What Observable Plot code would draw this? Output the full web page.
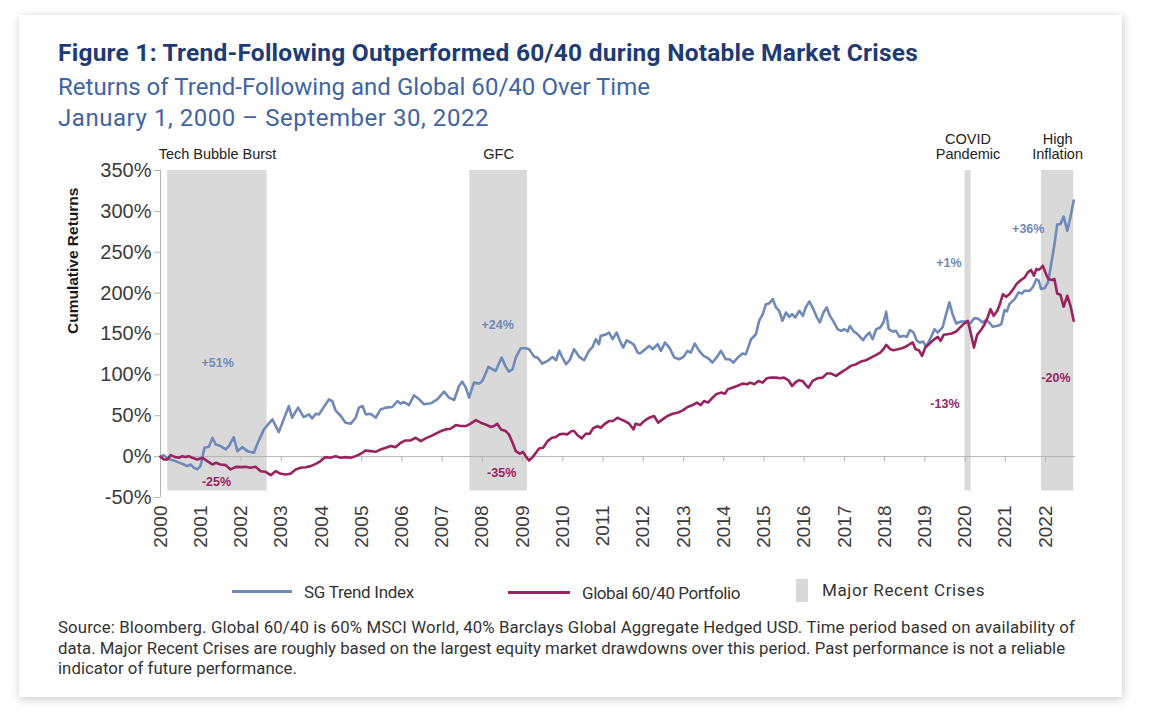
<!DOCTYPE html>
<html>
<head>
<meta charset="utf-8">
<script src="https://cdn.jsdelivr.net/npm/d3@7"></script>
<script src="https://cdn.jsdelivr.net/npm/@observablehq/plot@0.6"></script>
<style>
  html, body { margin: 0; padding: 0; }
  body { width: 1159px; height: 727px; position: relative; overflow: hidden; background: #ffffff; font-family: Roboto, "Liberation Sans", Arial, sans-serif; }
  #card { position: absolute; left: 19px; top: 15px; width: 1103px; height: 682px; background: #fff; box-shadow: 1px 2px 9px rgba(0,0,0,0.22); }
  .t { position: absolute; left: 58px; white-space: nowrap; }
  #title { top: 40px; font-size: 24.5px; line-height: 26px; font-weight: 700; color: #1e3b75; }
  #sub { top: 74px; font-size: 24px; line-height: 26px; color: #4064a4; }
  #date { top: 105px; font-size: 24px; line-height: 26px; color: #4064a4; }
  #chart { position: absolute; left: 40px; top: 130px; }
  .lg { position: absolute; font-size: 17px; line-height: 20px; color: #333; white-space: nowrap; }
  .sw { position: absolute; }
  .cap { position: absolute; left: 58px; font-size: 16.8px; line-height: 20px; color: #333; white-space: nowrap; }
</style>
</head>
<body>
<div id="card"></div>
<div id="title" class="t" data-w="860">Figure 1: Trend-Following Outperformed 60/40 during Notable Market Crises</div>
<div id="sub" class="t" data-w="592">Returns of Trend-Following and Global 60/40 Over Time</div>
<div id="date" class="t" data-w="431">January 1, 2000 – September 30, 2022</div>
<div id="chart"></div>
<div class="sw" style="left:232px;top:590px;width:60px;height:3px;background:#6f89b8"></div>
<div class="lg" style="left:304px;top:582px" data-w="110">SG Trend Index</div>
<div class="sw" style="left:508px;top:591px;width:62px;height:3px;background:#98235f"></div>
<div class="lg" style="left:582px;top:583px" data-w="158">Global 60/40 Portfolio</div>
<div class="sw" style="left:796px;top:579px;width:12px;height:23px;background:#d9d9d9"></div>
<div class="lg" style="left:822px;top:580px" data-w="163">Major Recent Crises</div>
<div class="cap" style="top:617px" data-w="1017">Source: Bloomberg. Global 60/40 is 60% MSCI World, 40% Barclays Global Aggregate Hedged USD. Time period based on availability of</div>
<div class="cap" style="top:638px" data-w="1007">data. Major Recent Crises are roughly based on the largest equity market drawdowns over this period. Past performance is not a reliable</div>
<div class="cap" style="top:658px" data-w="239">indicator of future performance.</div>
<script>
// ---- Data (decimal years, cumulative return in %) ----
const sgYears = [
  2000, 2000.08, 2000.17, 2000.37, 2000.58, 2000.66, 2000.75, 2000.83, 2000.91, 2000.99,
  2001.04, 2001.09, 2001.20, 2001.29, 2001.37, 2001.49, 2001.62, 2001.70, 2001.82, 2001.91,
  2002.03, 2002.16, 2002.32, 2002.40, 2002.57, 2002.78, 2002.94,
  2003.19, 2003.27, 2003.42, 2003.56, 2003.69, 2003.77, 2003.86, 2003.94,
  2004.06, 2004.19, 2004.27, 2004.35, 2004.48, 2004.60, 2004.73, 2004.85, 2004.93,
  2005.02, 2005.10, 2005.22, 2005.35, 2005.47, 2005.60, 2005.76, 2005.89, 2005.97,
  2006.05, 2006.18, 2006.30, 2006.43, 2006.55, 2006.72, 2006.88,
  2007.05, 2007.17, 2007.30, 2007.42, 2007.50, 2007.59, 2007.67, 2007.79, 2007.92,
  2008.00, 2008.15, 2008.25, 2008.33, 2008.48, 2008.57, 2008.66, 2008.75, 2008.83, 2008.95,
  2009.08, 2009.16, 2009.29, 2009.37, 2009.49, 2009.62, 2009.74, 2009.83, 2009.91, 2009.99,
  2010.08, 2010.17, 2010.28, 2010.41, 2010.53, 2010.65, 2010.74, 2010.82, 2010.90, 2010.94,
  2011.05, 2011.15, 2011.24, 2011.34, 2011.42, 2011.50, 2011.59, 2011.69, 2011.77, 2011.86, 2011.92,
  2012.02, 2012.15, 2012.23, 2012.36, 2012.44, 2012.54, 2012.65, 2012.77, 2012.89,
  2013.00, 2013.10, 2013.18, 2013.28, 2013.39, 2013.50, 2013.61, 2013.72, 2013.81, 2013.93,
  2014.05, 2014.14, 2014.24, 2014.35, 2014.47, 2014.55, 2014.68, 2014.80, 2014.88, 2014.97,
  2015.05, 2015.13, 2015.22, 2015.30, 2015.38, 2015.46, 2015.55, 2015.63, 2015.70, 2015.78, 2015.88, 2015.97,
  2016.04, 2016.13, 2016.23, 2016.31, 2016.39, 2016.48, 2016.56, 2016.64, 2016.72, 2016.83, 2016.92,
  2017.00, 2017.08, 2017.14, 2017.22, 2017.33, 2017.46, 2017.54, 2017.62, 2017.70, 2017.79, 2017.89, 2017.97,
  2018.04, 2018.10, 2018.20, 2018.28, 2018.37, 2018.47, 2018.55, 2018.63, 2018.72, 2018.80, 2018.88, 2018.96,
  2019.03, 2019.15, 2019.24, 2019.32, 2019.44, 2019.53, 2019.61, 2019.69, 2019.78, 2019.90,
  2020.02, 2020.13, 2020.23, 2020.32, 2020.44, 2020.52, 2020.60, 2020.69, 2020.81, 2020.90, 2020.98,
  2021.04, 2021.10, 2021.23, 2021.33, 2021.41, 2021.48, 2021.60, 2021.69, 2021.77, 2021.83, 2021.89, 2021.98,
  2022.06, 2022.12, 2022.21, 2022.29, 2022.37, 2022.45, 2022.54, 2022.62, 2022.70
];
const sgValues = [
  0, 1.8, -2.2, -5.5, -9.6, -11.6, -9.6, -13.7, -15.7, -11.6,
  -1.4, 10.8, 12.1, 23.1, 14.9, 12.9, 8.8, 12.9, 23.9, 6.7,
  11.6, 6.7, 4.7, 14.9, 33.3, 45.6, 30.0,
  61.9, 47.6, 59.9, 48.4, 51.7, 46.8, 52.5, 51.7,
  60.7, 70.1, 68.0, 56.6, 49.7, 41.5, 40.3, 47.6, 59.9,
  61.9, 51.7, 52.5, 47.6, 57.8, 59.9, 60.7, 68.0, 64.8,
  66.8, 63.1, 75.0, 70.1, 64.0, 65.2, 70.1,
  79.5, 72.1, 69.3, 86.4, 91.7, 84.4, 72.1, 90.5, 89.3,
  92.6, 109.7, 106.9, 104.8, 121.2, 111.0, 104.0, 106.9, 121.2, 132.6,
  132.6, 131.4, 122.0, 121.2, 113.8, 117.1, 122.0, 117.9, 129.4, 121.2,
  113.0, 117.9, 131.4, 122.0, 117.9, 129.4, 134.3, 143.7, 137.5, 147.7,
  149.0, 151.8, 143.7, 151.8, 141.6, 133.4, 142.3, 139.6, 136.7, 127.3, 126.1,
  130.2, 135.5, 131.4, 137.5, 129.4, 139.6, 133.4, 121.2, 119.1,
  122.0, 129.4, 127.3, 138.3, 129.4, 123.2, 120.4, 115.1, 120.4, 129.4,
  119.1, 119.1, 115.1, 121.2, 126.1, 125.3, 143.6, 149.7, 166.1, 174.3,
  186.5, 187.4, 192.7, 182.5, 178.4, 166.1, 176.3, 171.0, 174.3, 170.2, 178.4, 172.2,
  182.5, 189.8, 180.4, 171.0, 164.1, 176.3, 182.5, 172.2, 166.1, 155.9, 153.8,
  155.9, 153.0, 160.0, 153.8, 149.7, 142.4, 147.7, 151.8, 143.6, 155.9, 157.9, 164.1,
  177.1, 155.9, 153.0, 153.8, 146.5, 147.7, 146.5, 154.7, 151.8, 141.6, 139.6, 140.8,
  134.3, 145.7, 155.9, 151.8, 158.0, 174.3, 188.6, 174.3, 162.9, 165.3,
  165.3, 162.9, 169.4, 169.0, 164.1, 166.9, 164.1, 158.8, 160.0, 162.0, 179.2,
  177.6, 186.6, 192.7, 200.9, 199.6, 202.9, 202.9, 207.8, 216.9, 215.2, 205.0, 206.2,
  213.1, 229.4, 256.0, 283.8, 284.6, 293.6, 276.4, 292.8, 313.2
];
const mixYears = [
  2000, 2000.08, 2000.17, 2000.25, 2000.37, 2000.46, 2000.54, 2000.62, 2000.70, 2000.79, 2000.91,
  2001.04, 2001.16, 2001.29, 2001.37, 2001.49, 2001.62, 2001.74, 2001.87, 2001.99,
  2002.11, 2002.24, 2002.36, 2002.49, 2002.61, 2002.74, 2002.86, 2002.99,
  2003.11, 2003.23, 2003.36, 2003.48, 2003.61, 2003.73, 2003.86, 2003.98,
  2004.10, 2004.23, 2004.35, 2004.48, 2004.60, 2004.73, 2004.85, 2004.98,
  2005.10, 2005.22, 2005.35, 2005.47, 2005.60, 2005.72, 2005.84, 2005.97,
  2006.09, 2006.22, 2006.34, 2006.47, 2006.59, 2006.72, 2006.84, 2006.97,
  2007.09, 2007.21, 2007.34, 2007.46, 2007.59, 2007.71, 2007.84, 2007.96,
  2008.08, 2008.21, 2008.29, 2008.37, 2008.46, 2008.58, 2008.66, 2008.75, 2008.83, 2008.93,
  2009.01, 2009.09, 2009.16, 2009.25, 2009.33, 2009.41, 2009.51, 2009.62, 2009.73, 2009.83, 2009.91,
  2010.01, 2010.11, 2010.22, 2010.28, 2010.36, 2010.47, 2010.57, 2010.67, 2010.75, 2010.86, 2010.94,
  2011.05, 2011.15, 2011.25, 2011.36, 2011.44, 2011.54, 2011.65, 2011.76, 2011.81, 2011.92,
  2012.02, 2012.15, 2012.27, 2012.37, 2012.48, 2012.60, 2012.73, 2012.85, 2012.98,
  2013.10, 2013.23, 2013.33, 2013.43, 2013.51, 2013.61, 2013.72, 2013.81, 2013.93,
  2014.03, 2014.10, 2014.21, 2014.33, 2014.47, 2014.58, 2014.66, 2014.76, 2014.86, 2014.97,
  2015.07, 2015.17, 2015.30, 2015.40, 2015.50, 2015.61, 2015.70, 2015.78, 2015.86, 2015.96,
  2016.04, 2016.11, 2016.21, 2016.33, 2016.46, 2016.56, 2016.67, 2016.79, 2016.91,
  2017.04, 2017.16, 2017.29, 2017.41, 2017.54, 2017.66, 2017.79, 2017.89, 2017.97,
  2018.04, 2018.14, 2018.22, 2018.33, 2018.43, 2018.52, 2018.62, 2018.70, 2018.77, 2018.85, 2018.93,
  2019.01, 2019.10, 2019.17, 2019.24, 2019.32, 2019.39, 2019.47, 2019.57, 2019.67, 2019.78, 2019.88, 2019.98,
  2020.07, 2020.13, 2020.22, 2020.30, 2020.38, 2020.48, 2020.56, 2020.63, 2020.71, 2020.80, 2020.85, 2020.94,
  2021.02, 2021.10, 2021.18, 2021.29, 2021.39, 2021.48, 2021.56, 2021.64, 2021.71, 2021.77, 2021.82, 2021.89, 2021.93,
  2022.02, 2022.07, 2022.16, 2022.22, 2022.29, 2022.37, 2022.45, 2022.54, 2022.62, 2022.70
];
const mixValues = [
  0, -3.5, -3.5, 1.8, -0.6, -1.4, 0.6, -0.6, 0.6, -1.4, -3.5,
  -1.4, -5.5, -9.6, -7.6, -9.6, -10.4, -15.7, -12.5, -12.9,
  -12.5, -13.7, -12.5, -17.8, -18.6, -22.7, -17.8, -21.0,
  -21.9, -21.0, -15.7, -13.7, -12.9, -11.6, -8.8, -5.5,
  -0.6, -1.4, 0.6, -1.4, -0.6, -1.4, 0.6, 3.5,
  7.6, 6.7, 5.9, 8.8, 10.8, 12.9, 11.6, 17.0,
  19.8, 19.8, 23.1, 19.0, 22.3, 25.1, 28.0, 31.3,
  33.3, 34.1, 38.6, 37.4, 37.4, 40.3, 44.7, 41.5,
  39.4, 36.2, 37.4, 40.3, 33.3, 31.3, 27.2, 17.0, 6.7, 3.5,
  5.9, -0.6, -4.7, -0.6, 4.7, 10.0, 10.8, 19.0, 23.1, 23.9, 27.2,
  28.0, 27.2, 31.3, 31.3, 26.4, 22.3, 28.0, 28.0, 34.5, 37.4, 35.3,
  40.3, 43.5, 43.5, 47.6, 45.6, 43.5, 40.3, 33.3, 40.3, 38.6,
  43.5, 47.6, 49.7, 41.5, 45.6, 49.7, 52.5, 53.7, 56.6,
  60.7, 63.1, 66.0, 63.1, 68.0, 66.0, 72.1, 76.2, 78.3,
  77.0, 82.3, 84.3, 86.4, 89.3, 88.5, 90.5, 88.5, 92.6, 90.5,
  95.8, 96.6, 96.6, 95.8, 96.6, 93.4, 86.4, 90.5, 93.4, 92.6,
  87.7, 84.3, 92.6, 95.8, 96.6, 101.6, 101.6, 98.7, 102.8,
  106.9, 111.0, 113.0, 116.3, 118.0, 121.2, 124.5, 127.3, 131.4,
  136.7, 131.4, 130.2, 131.4, 132.6, 134.3, 137.5, 139.6, 131.4, 130.2, 123.2,
  133.4, 137.5, 140.8, 143.7, 146.5, 141.6, 149.0, 149.8, 150.6, 153.0, 158.0, 162.9,
  166.1, 153.8, 133.4, 149.0, 153.8, 161.2, 170.2, 180.4, 172.2, 178.4, 184.5, 198.7,
  195.5, 198.7, 203.7, 211.9, 216.0, 219.2, 225.4, 228.3, 221.3, 229.4, 228.3, 230.7, 233.5,
  222.5, 217.2, 216.0, 217.2, 199.6, 198.0, 183.3, 196.8, 184.5, 166.1
];
const crisisNames = ["Tech Bubble Burst", "GFC", "COVID\nPandemic", "High\nInflation"];
const crisisStart = [2000.18, 2007.69, 2020.0, 2021.9];
const crisisEnd = [2002.65, 2009.12, 2020.15, 2022.7];
const noteTexts = ["+51%", "-25%", "+24%", "-35%", "+1%", "-13%", "+36%", "-20%"];
const noteSeries = ["sg", "mix", "sg", "mix", "sg", "mix", "sg", "mix"];
const noteYears = [2001.42, 2001.39, 2008.38, 2008.48, 2019.60, 2019.50, 2021.57, 2022.26];
const noteValues = [114.6, -31.3, 161, -20.2, 237, 64.4, 279, 96.5];
const yTicks = [-50, 0, 50, 100, 150, 200, 250, 300, 350];
const xTickYears = d3.range(2000, 2023);

// ---- helpers ----
function toDate(t) {
  const y = Math.floor(t), f = t - y;
  const a = Date.UTC(y, 0, 1), b = Date.UTC(y + 1, 0, 1);
  return new Date(a + f * (b - a));
}
const BLUE = "#6f89b8", PLUM = "#98235f", GREY = "#b3b3b3";
const sg = sgYears.map((t, i) => ({date: toDate(t), value: sgValues[i]}));
const mix = mixYears.map((t, i) => ({date: toDate(t), value: mixValues[i]}));
const crises = crisisNames.map((n, i) => ({name: n, start: toDate(crisisStart[i]), end: toDate(crisisEnd[i]), mid: toDate((crisisStart[i] + crisisEnd[i]) / 2)}));
const notes = noteTexts.map((t, i) => ({text: t, series: noteSeries[i], date: toDate(noteYears[i]), value: noteValues[i]}));
const yearDates = xTickYears.map(y => new Date(Date.UTC(y, 0, 1)));
const x0 = new Date(Date.UTC(2000, 0, 1)), x1 = new Date(Date.UTC(2022, 8, 30));

const chart = Plot.plot({
  width: 1060,
  height: 430,
  marginLeft: 120,
  marginRight: 25,
  marginTop: 40,
  marginBottom: 63,
  x: {type: "utc", domain: [x0, x1]},
  y: {domain: [-50, 350]},
  style: {fontFamily: "'Liberation Sans', Arial, sans-serif", background: "transparent", overflow: "visible"},
  marks: [
    Plot.rect(crises, {x1: "start", x2: "end", y1: -42, y2: 350, fill: "#d9d9d9"}),
    Plot.text(crises, {x: "mid", y: 364, text: "name", lineAnchor: "bottom", fontSize: 14.5, lineHeight: 1.05, fill: "#222"}),
    Plot.ruleY([0], {stroke: GREY}),
    Plot.ruleX(yearDates, {x: d => d, y1: 0, y2: -6.5, stroke: GREY}),
    Plot.ruleX([x0], {y1: -50, y2: 350, stroke: GREY}),
    Plot.axisY({ticks: yTicks, tickFormat: d => d + "%", tickSize: 6, tickPadding: 3, fontSize: 20, stroke: GREY, fill: "#3c3c3c", label: null}),
    Plot.axisX({ticks: yearDates, tickFormat: "%Y", tickRotate: -90, tickSize: 0, tickPadding: 8, fontSize: 19, fill: "#3c3c3c", label: null}),
    Plot.text(["Cumulative Returns"], {frameAnchor: "left", rotate: -90, dx: -87, fontSize: 15.5, fontWeight: "bold", fill: "#1a1a1a"}),
    Plot.line(sg, {x: "date", y: "value", stroke: BLUE, strokeWidth: 2.6}),
    Plot.line(mix, {x: "date", y: "value", stroke: PLUM, strokeWidth: 2.6}),
    Plot.text(notes, {x: "date", y: "value", text: "text", fontWeight: "bold", fontSize: 12.5, fill: d => d.series === "sg" ? BLUE : PLUM})
  ]
});
document.getElementById("chart").appendChild(chart);

// fit HTML text widths to the reference by letter spacing
document.querySelectorAll("[data-w]").forEach(el => {
  const target = +el.dataset.w;
  const w = el.getBoundingClientRect().width;
  const n = el.textContent.length;
  el.style.letterSpacing = ((target - w) / n).toFixed(3) + "px";
});
</script>
</body>
</html>
